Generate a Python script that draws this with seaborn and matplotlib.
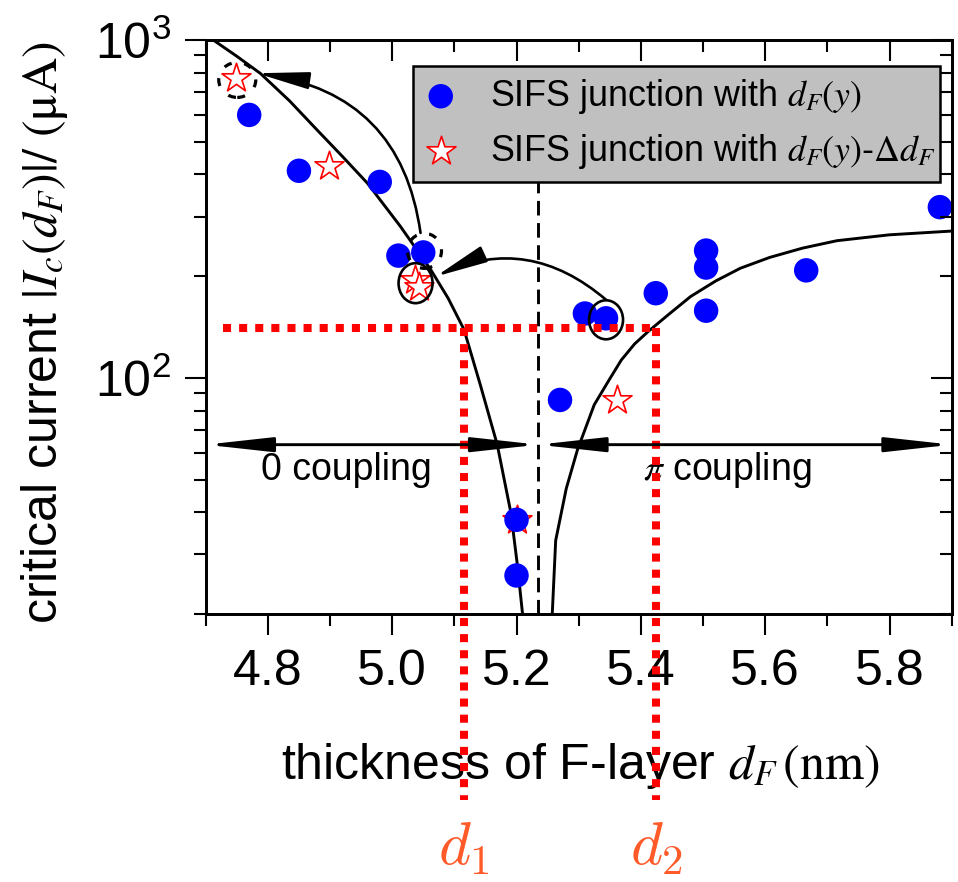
import numpy as np
import pandas as pd
import matplotlib
matplotlib.use("Agg")
import matplotlib.pyplot as plt
import seaborn as sns
from matplotlib.patches import FancyArrowPatch, Ellipse, ArrowStyle
from matplotlib import transforms
from matplotlib.ticker import FixedLocator, NullFormatter

# ---------------- data ----------------
blue_x = [4.77, 4.85, 4.98, 5.01, 5.05, 5.20, 5.20, 5.27, 5.31, 5.344, 5.424, 5.505, 5.505, 5.505, 5.666, 5.881]
blue_y = [600, 410, 380, 230, 235, 38, 26, 86, 155, 150, 178, 238, 212, 158, 208, 320]
star_x = [4.749, 4.899, 5.036, 5.043, 5.20, 5.361]
star_y = [771, 424, 195, 186, 38, 86]

fit_left_x = [4.700, 4.712, 4.750, 4.788, 4.835, 4.879, 4.920, 4.960, 5.013, 5.062, 5.090,
              5.1155, 5.142, 5.169, 5.191, 5.2016, 5.2097, 5.213]
fit_left_y = [1040, 1000, 895, 796, 660, 542, 452, 377, 281, 209, 172,
              139, 95, 63.4, 39.8, 27.7, 20, 18]
fit_right_x = [5.256, 5.2575, 5.263, 5.280, 5.298, 5.325, 5.349, 5.3686, 5.390, 5.412, 5.4443,
               5.480, 5.5203, 5.560, 5.6071, 5.660, 5.7155, 5.800, 5.9106]
fit_right_y = [18, 20, 33, 47, 61.2, 83.2, 98.6, 112.9, 126, 137.2, 153.8,
               174, 193.4, 211, 227.1, 242, 254.6, 265, 272.6]

d1, d2 = 5.1155, 5.4247
red_level = 140
red_start_x = 4.728
red_bottom_y = 5.64
label_y = 4.02
boundary_x = 5.235
boundary_top = 390
coupling_y = 63.4
coupling_text_y = 53.5

x_major = [4.8, 5.0, 5.2, 5.4, 5.6, 5.8]
x_minor = [4.7, 4.9, 5.1, 5.3, 5.5, 5.7, 5.9]
y_major = [100, 1000]
y_major_labels = [r"$\mathregular{10^{2}}$", r"$\mathregular{10^{3}}$"]
y_minor = [20, 30, 40, 50, 60, 70, 80, 90, 200, 300, 400, 500, 600, 700, 800, 900]

label_blue = r"SIFS junction with $d_F(y)$"
label_star = r"SIFS junction with $d_F(y)$-$\mathit{\Delta} d_F$"

# ---------------- style ----------------
sns.set_theme(style="ticks", rc={
    "axes.edgecolor": "black", "xtick.color": "black", "ytick.color": "black",
    "text.color": "black", "axes.labelcolor": "black",
})
plt.rcParams["font.family"] = ["Liberation Sans", "DejaVu Sans"]
plt.rcParams["mathtext.fontset"] = "stix"

fig = plt.figure(figsize=(9.58, 8.82), dpi=100)
ax = fig.add_axes([0.2147, 0.3039, 0.7787, 0.6508])

LW = 2.1

# fit curves
sns.lineplot(x=fit_left_x, y=fit_left_y, ax=ax, color="black", lw=LW, sort=False, estimator=None, zorder=2)
sns.lineplot(x=fit_right_x, y=fit_right_y, ax=ax, color="black", lw=LW, sort=False, estimator=None, zorder=2)

# points
sns.scatterplot(x=star_x, y=star_y, ax=ax, marker="*", s=480, facecolor="white",
                edgecolor="red", linewidth=1.2, label=label_star, zorder=3)
sns.scatterplot(x=blue_x, y=blue_y, ax=ax, marker="o", s=310, color="blue",
                edgecolor="none", label=label_blue, zorder=4)

ax.set_yscale("log")
ax.set_xlim(4.7, 5.9)
ax.set_ylim(20, 1000)

# boundary dashed line
ax.plot([boundary_x, boundary_x], [20, boundary_top], color="black", lw=LW,
        ls=(0, (5.0, 2.6)), zorder=2)

# red dotted guide lines
red_kw = dict(color="red", lw=5.8, ls=(0, (1, 1)), clip_on=False, zorder=5,
              solid_capstyle="butt", dash_capstyle="butt")
ax.plot([red_start_x, d2], [red_level, red_level], **red_kw)
ax.plot([d1, d1], [red_level, red_bottom_y], **red_kw)
ax.plot([d2, d2], [red_level, red_bottom_y], **red_kw)
for xx, tt in [(d1, r"$d_1$"), (d2, r"$d_2$")]:
    ax.text(xx, label_y, tt, color="#FF5A28", fontsize=44, math_fontfamily="cm",
            ha="center", va="center", clip_on=False)

# coupling arrows
cstyle = ArrowStyle("<|-|>", head_length=2.0, head_width=0.22)
for xa, xb in [(4.7, boundary_x), (boundary_x, 5.9)]:
    ax.add_patch(FancyArrowPatch((xa, coupling_y), (xb, coupling_y), arrowstyle=cstyle,
                                 mutation_scale=20, lw=LW, color="black",
                                 shrinkA=0, shrinkB=0, clip_on=False, zorder=6))
ax.text(4.927, coupling_text_y, "0 coupling", fontsize=27, ha="center", va="center")
ax.text(5.5387, coupling_text_y, r"$\pi$ coupling", fontsize=27, ha="center", va="center")

# circles around points (sizes in pixels)
def ellipse(x, y, w_px, h_px, **kw):
    tr = fig.dpi_scale_trans + transforms.ScaledTranslation(x, y, ax.transData)
    ax.add_patch(Ellipse((0, 0), w_px / 100, h_px / 100, transform=tr, fill=False,
                         edgecolor="black", zorder=6, **kw))

ellipse(5.0376, 190.6, 34, 40, lw=1.9)
ellipse(5.344, 148.5, 34, 39, lw=1.9)
ellipse(4.7508, 761.6, 37, 35, lw=2.3, ls=(0, (2.5, 4)))
ellipse(5.052, 237.5, 34, 35, lw=2.3, ls=(0, (2.5, 4)))

# curved arrows
astyle = ArrowStyle("-|>", head_length=1.6, head_width=0.26)
ax.add_patch(FancyArrowPatch((5.0456, 268.5), (4.782, 797),
                             connectionstyle="angle3,angleA=98,angleB=-8",
                             arrowstyle=astyle, mutation_scale=20, lw=1.9, color="black",
                             shrinkA=0, shrinkB=0, zorder=6))
ax.add_patch(FancyArrowPatch((5.3444, 170), (5.0698, 199.4),
                             connectionstyle="arc3,rad=0.32",
                             arrowstyle=astyle, mutation_scale=20, lw=1.9, color="black",
                             shrinkA=0, shrinkB=0, zorder=6))

# ticks
ax.xaxis.set_major_locator(FixedLocator(x_major))
ax.xaxis.set_minor_locator(FixedLocator(x_minor))
ax.set_xticklabels([f"{v:.1f}" for v in x_major])
ax.yaxis.set_major_locator(FixedLocator(y_major))
ax.yaxis.set_minor_locator(FixedLocator(y_minor))
ax.yaxis.set_minor_formatter(NullFormatter())
ax.set_yticklabels(y_major_labels)
ax.tick_params(which="major", direction="out", length=15, width=1.5, labelsize=36, pad=10)
ax.tick_params(which="minor", direction="out", length=8.5, width=1.5)

# mirrored inward ticks on top/right
axt = ax.twiny()
axt.set_xlim(ax.get_xlim())
axt.xaxis.set_major_locator(FixedLocator(x_major))
axt.xaxis.set_minor_locator(FixedLocator(x_minor))
axt.tick_params(axis="x", which="major", direction="in", length=15, width=1.5, labeltop=False)
axt.tick_params(axis="x", which="minor", direction="in", length=8.5, width=1.5)
axr = ax.twinx()
axr.set_yscale("log")
axr.set_ylim(ax.get_ylim())
axr.yaxis.set_major_locator(FixedLocator(y_major))
axr.yaxis.set_minor_locator(FixedLocator(y_minor))
axr.yaxis.set_minor_formatter(NullFormatter())
axr.tick_params(axis="y", which="major", direction="in", length=15, width=1.5, labelright=False)
axr.tick_params(axis="y", which="minor", direction="in", length=8.5, width=1.5)
for a in (ax, axt, axr):
    for s in a.spines.values():
        s.set_linewidth(1.8)
        s.set_color("black")

# labels
ax.set_xlabel(r"thickness of F-layer $d_F\,(\mathrm{nm})$", fontsize=36)
ax.xaxis.set_label_coords(0.502, -0.222)
ax.set_ylabel(r"critical current $|I_c(d_F)|/\ (\mathrm{\mu A})$", fontsize=36)
ax.yaxis.set_label_coords(-0.182, 0.49)

# legend
h, l = ax.get_legend_handles_labels()
order = [l.index(label_blue), l.index(label_star)]
leg = ax.legend([h[i] for i in order], [l[i] for i in order], loc="upper left",
                bbox_to_anchor=(0.2779, 0.7648, 0.7064, 0.19), mode="expand",
                fontsize=25.8, frameon=True, fancybox=False, framealpha=1,
                facecolor="#C0C0C0", edgecolor="black", borderpad=0.3,
                labelspacing=0.45, handlelength=0.95, handletextpad=0.9,
                borderaxespad=0)
leg.get_frame().set_linewidth(1.8)
leg.set_zorder(10)

fig.savefig("out.png", dpi=100)
